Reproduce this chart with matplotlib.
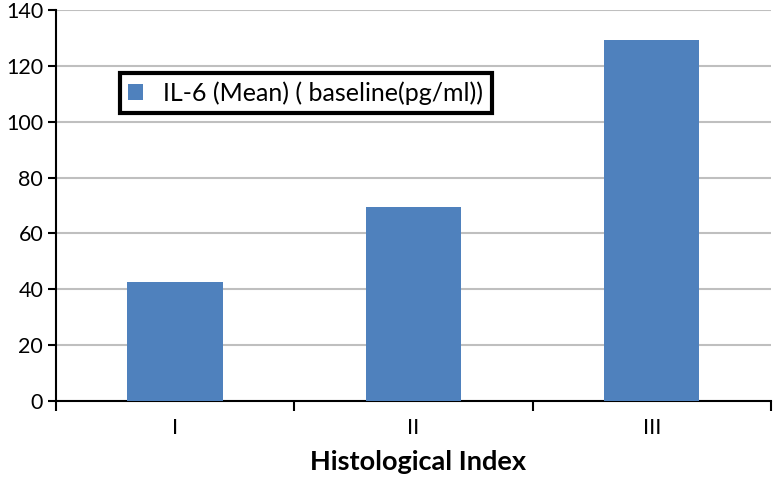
import numpy as np
import matplotlib.pyplot as plt

# Dane
categories = ['I', 'II', 'III']
il6_mean = [42.8, 69.6, 129.3]
series_label = 'IL-6 (Mean) ( baseline(pg/ml))'

plt.rcParams['font.family'] = ['Lato', 'DejaVu Sans']

fig = plt.figure(figsize=(7.74, 4.78), dpi=100)
ax = fig.add_axes([0.072, 0.161, 0.924, 0.818])

x = np.arange(len(categories))
ax.bar(x, il6_mean, width=0.4, color='#4F81BD', label=series_label, zorder=3)

ax.set_xlim(-0.5, len(categories) - 0.5)
ax.set_ylim(0, 140)
ax.set_yticks(np.arange(0, 141, 20))
ax.yaxis.grid(True, color='#BFBFBF', linewidth=1.5, zorder=0)

# etykiety w środku kategorii, kreski na granicach
ax.set_xticks(x)
ax.set_xticklabels(categories)
ax.set_xticks(np.arange(-0.5, len(categories), 1.0), minor=True)
ax.tick_params(axis='x', which='major', length=0, pad=12, labelsize=15.5)
ax.tick_params(axis='x', which='minor', length=7, width=1.5, direction='out')
ax.tick_params(axis='y', length=6, width=1.5, labelsize=15.5, pad=3)

for s in ['top', 'right']:
    ax.spines[s].set_visible(False)
for s in ['left', 'bottom']:
    ax.spines[s].set_linewidth(1.5)

ax.set_xlabel('Histological Index', fontsize=19.5, fontweight='bold')
ax.xaxis.set_label_coords(0.507, -0.125)

leg = ax.legend(loc='upper left', bbox_to_anchor=(0.09, 0.838), fontsize=18,
                frameon=True, fancybox=False, edgecolor='black', framealpha=1,
                handlelength=0.6, handleheight=0.6, handletextpad=0.8,
                borderpad=0.33, borderaxespad=0)
leg.get_frame().set_linewidth(3)

fig.savefig('out.png', dpi=100)
